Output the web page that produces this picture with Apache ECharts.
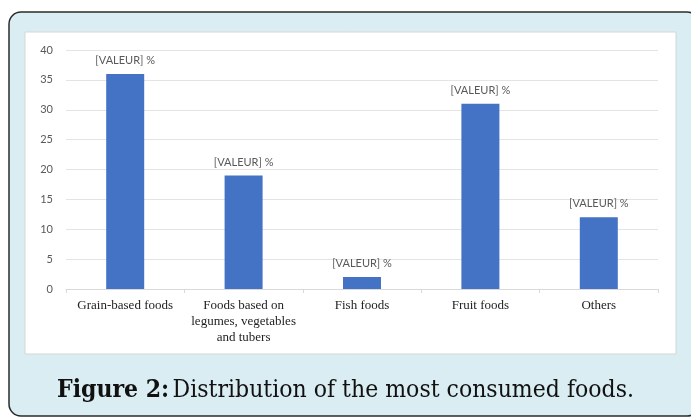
<!DOCTYPE html>
<html>
<head>
<meta charset="utf-8">
<script src="https://cdn.jsdelivr.net/npm/echarts@6/dist/echarts.min.js"></script>
<style>
html,body{margin:0;padding:0;background:#fff;}
#main{width:691px;height:419px;}
</style>
</head>
<body>
<div id="main"></div>
<script>
// data
var categories = ['Grain-based foods', 'Foods based on\nlegumes, vegetables\nand tubers', 'Fish foods', 'Fruit foods', 'Others'];
var shares = [36, 19, 2, 31, 12];
var valueLabel = '[VALEUR] %';
var caption = 'Distribution of the most consumed foods.';

var myChart = echarts.init(document.getElementById('main'));
var option = {
	animation: false,
	backgroundColor: '#fff',
	graphic: [
		{ // outer rounded frame (runs off the right edge)
			type: 'rect', z: -10,
			shape: { x: 9, y: 12, width: 690, height: 404, r: 12 },
			style: { fill: '#d9edf2', stroke: '#2b2b2b', lineWidth: 1.5 }
		},
		{ // white chart panel
			type: 'rect', z: -9,
			shape: { x: 25, y: 32, width: 651, height: 322 },
			style: { fill: '#fff', stroke: '#d6d6d6', lineWidth: 1 }
		},
		{
			type: 'text', z: 5,
			left: 'center', top: 378,
			style: {
				text: '{b|Figure 2:} {n|' + caption + '}',
				rich: {
					b: { fontFamily: 'DejaVu Serif Condensed', fontWeight: 'bold', fontSize: 24.5, fill: '#111' },
					n: { fontFamily: 'DejaVu Serif Condensed', fontSize: 24.5, fill: '#111' }
				}
			}
		}
	],
	grid: { left: 66, right: 33, top: 50, bottom: 130 },
	xAxis: {
		type: 'category',
		data: categories,
		axisLine: { lineStyle: { color: '#d9d9d9' } },
		axisTick: { show: true, length: 4, lineStyle: { color: '#d9d9d9' } },
		axisLabel: {
			color: '#222', fontFamily: 'Liberation Serif', fontSize: 13,
			margin: 9, lineHeight: 16, interval: 0
		}
	},
	yAxis: {
		type: 'value',
		min: 0, max: 40, interval: 5,
		axisLine: { show: false },
		axisTick: { show: false },
		splitLine: { lineStyle: { color: '#e4e4e4' } },
		axisLabel: { color: '#595959', fontFamily: 'Lato', fontSize: 11, margin: 13 }
	},
	series: [{
		type: 'bar',
		data: shares,
		barWidth: 38,
		itemStyle: { color: '#4472c4' },
		label: {
			show: true, position: 'top', distance: 8,
			formatter: valueLabel,
			color: '#595959', fontFamily: 'Lato', fontSize: 11
		}
	}]
};
myChart.setOption(option);
</script>
</body>
</html>
